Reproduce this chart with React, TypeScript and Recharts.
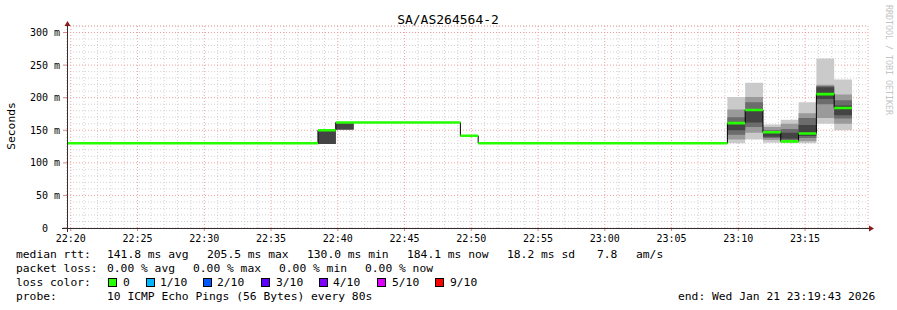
import React from 'react';
import { ComposedChart, Area, Line, XAxis, YAxis, CartesianGrid } from 'recharts';

const chartTitle = 'SA/AS264564-2';

// rrd slots, 80 s each, first one starts 22:18:31
const slotStartSec = 80311;
const slotStepSec = 80;
// visible window 22:19:43 .. 23:19:43
const viewStartSec = 80383;
const viewEndSec = 83983;

// median rtt per slot (ms)
const medianMs = [
  130, 130, 130, 130, 130, 130, 130, 130, 130, 130, 130, 130, 130, 130, 130,
  150, 162,
  162, 162, 162, 162, 162, 162,
  141.5,
  130, 130, 130, 130, 130, 130, 130, 130, 130, 130, 130, 130, 130, 130,
  161, 181, 147, 133, 145, 205.5, 184.1,
];

// slots that show smoke, and the ping spread bands (outer -> core), ms
const smokeSlots = [15, 16, 38, 39, 40, 41, 42, 43, 44];
const smokeBand1 = [[129, 151], [151, 162], [130, 201], [136, 223], [131, 159], [130, 166], [130, 193], [160, 260], [150, 228]];
const smokeBand2 = [[129, 151], [151, 162], [136, 182], [146, 201], [135, 155], [132, 160], [133, 176], [169, 220], [160, 205]];
const smokeBand3 = [[129, 151], [151, 162], [143, 170], [155, 193], [138, 150], [134, 152], [138, 169], [190, 218], [168, 196]];
const smokeBand4 = [[129, 151], [151, 162], [150, 160], [162, 180], [140, 146], [137, 146], [141, 158], [198, 216], [173, 188]];

const xTickLabels = ['22:20', '22:25', '22:30', '22:35', '22:40', '22:45', '22:50', '22:55', '23:00', '23:05', '23:10', '23:15'];
const yTicks = [0, 50, 100, 150, 200, 250, 300];
const yMax = 310;

const statsRtt = ['141.8 ms avg', '205.5 ms max', '130.0 ms min', '184.1 ms now', '18.2 ms sd', '7.8', 'am/s'];
const statsLoss = ['0.00 % avg', '0.00 % max', '0.00 % min', '0.00 % now'];
const lossLabels = ['0', '1/10', '2/10', '3/10', '4/10', '5/10', '9/10'];
const lossColors = ['#26ff00', '#00b8ff', '#0059ff', '#5e00ff', '#7e00ff', '#dd00ff', '#ff0000'];
const probeText = '10 ICMP Echo Pings (56 Bytes) every 80s';
const endText = 'end: Wed Jan 21 23:19:43 2026';

const mono = '"DejaVu Sans Mono", monospace';

const toSec = (hm: string) => {
  const [h, m] = hm.split(':').map(Number);
  return h * 3600 + m * 60;
};
const fmtTime = (s: number) => {
  const h = Math.floor(s / 3600);
  const m = Math.floor((s % 3600) / 60);
  return `${String(h).padStart(2, '0')}:${String(m).padStart(2, '0')}`;
};

const xTicks = xTickLabels.map(toSec);
const xMinorTicks: number[] = [];
for (let s = xTicks[0]; s < viewEndSec; s += 60) if (!xTicks.includes(s)) xMinorTicks.push(s);
const yMinorTicks: number[] = [];
for (let v = 10; v <= yMax; v += 10) if (!yTicks.includes(v)) yMinorTicks.push(v);

type Band = number[] | null;
type Row = { t: number; m: number | null; b1: Band; b2: Band; b3: Band; b4: Band };

const rows: Row[] = [];
medianMs.forEach((m, i) => {
  const t0 = slotStartSec + i * slotStepSec;
  const t1 = t0 + slotStepSec;
  const k = smokeSlots.indexOf(i);
  const bands = k >= 0
    ? { b1: smokeBand1[k], b2: smokeBand2[k], b3: smokeBand3[k], b4: smokeBand4[k] }
    : { b1: null, b2: null, b3: null, b4: null };
  rows.push({ t: t0, m, ...bands });
  rows.push({ t: t1, m, ...bands });
  rows.push({ t: t1, m: null, b1: null, b2: null, b3: null, b4: null });
});

function YTick(props: any) {
  const { x, y, payload } = props;
  const v = payload.value;
  return (
    <text x={v === 0 ? x - 12 : x} y={y} dy={3.5} textAnchor="end" fontSize={10} fontFamily={mono} fill="#000">
      {v === 0 ? '0' : `${v} m`}
    </text>
  );
}

// axis scale in recharts 3 may be a plain function or an object with map()
const useScale = (axis: any, vals: number[]): number[] => {
  const s = axis && axis.scale;
  if (typeof s === 'function') return vals.map((v) => s(v));
  if (s && typeof s.map === 'function') return vals.map((v) => s.map(v));
  return [];
};
const minorX = ({ xAxis }: any) => useScale(xAxis, xMinorTicks).filter((v) => Number.isFinite(v));
const minorY = ({ yAxis }: any) => useScale(yAxis, yMinorTicks).filter((v) => Number.isFinite(v));

const rttX = [107, 207, 307, 407, 507, 597, 636];
const lossX = [107, 193, 279, 365];
const boxX = [108, 146, 203, 261, 319, 377, 435];
const labelX = [123, 160, 217, 276, 333, 392, 450];

export default function App() {
  return (
    <div style={{ position: 'absolute', left: 0, top: 0, width: 897, height: 310, background: '#fff' }}>
      <ComposedChart
        width={897}
        height={310}
        data={rows}
        margin={{ top: 26, right: 29, bottom: 52, left: 0 }}
      >
        <CartesianGrid
          stroke="#d2d2d2"
          strokeDasharray="1 2"
          verticalCoordinatesGenerator={minorX}
          horizontalCoordinatesGenerator={minorY}
        />
        <CartesianGrid stroke="#f2a0a0" strokeDasharray="1 2" />
        <XAxis
          dataKey="t"
          type="number"
          domain={[viewStartSec, viewEndSec]}
          ticks={xTicks}
          tickFormatter={fmtTime}
          allowDataOverflow
          height={30}
          axisLine={false}
          tickSize={3}
          tickMargin={4}
          tickLine={{ stroke: '#e08080' }}
          tick={{ fontSize: 10, fill: '#000', fontFamily: mono }}
        />
        <YAxis
          type="number"
          domain={[0, yMax]}
          ticks={yTicks}
          allowDataOverflow
          width={67}
          axisLine={false}
          tickSize={4}
          tickMargin={3}
          tickLine={{ stroke: '#e08080' }}
          tick={<YTick />}
        />
        <Area dataKey="b1" type="linear" stroke="none" fill="#cacaca" fillOpacity={1} dot={false} activeDot={false} isAnimationActive={false} />
        <Area dataKey="b2" type="linear" stroke="none" fill="#9a9a9a" fillOpacity={1} dot={false} activeDot={false} isAnimationActive={false} />
        <Area dataKey="b3" type="linear" stroke="none" fill="#6c6c6c" fillOpacity={1} dot={false} activeDot={false} isAnimationActive={false} />
        <Area dataKey="b4" type="linear" stroke="none" fill="#444444" fillOpacity={1} dot={false} activeDot={false} isAnimationActive={false} />
        <Line dataKey="m" type="linear" stroke="#000" strokeWidth={1} connectNulls dot={false} activeDot={false} isAnimationActive={false} />
        <Line dataKey="m" type="linear" stroke="#26ff00" strokeWidth={2.6} dot={false} activeDot={false} isAnimationActive={false} />
      </ComposedChart>

      <svg width={897} height={310} style={{ position: 'absolute', left: 0, top: 0, pointerEvents: 'none' }} fontFamily={mono}>
        <text x={448} y={24} textAnchor="middle" fontSize={13} fill="#000">{chartTitle}</text>
        <text x={15} y={126} textAnchor="middle" fontSize={11.3} fill="#000" transform="rotate(-90 15 126)">Seconds</text>
        <text x={886} y={5} fontSize={8.3} fill="#c4c4c4" transform="rotate(90 886 5)">RRDTOOL / TOBI OETIKER</text>

        <line x1={62} y1={228.5} x2={869} y2={228.5} stroke="#303030" strokeWidth={1} />
        <line x1={67.5} y1={232} x2={67.5} y2={25} stroke="#303030" strokeWidth={1} />
        <polygon points="869,225.5 874,228.5 869,231.5" fill="#8b1a1a" />
        <polygon points="64.5,26 67.5,21 70.5,26" fill="#8b1a1a" />

        <g fontSize={11.3} fill="#000">
          <text x={16} y={258}>median rtt:</text>
          {statsRtt.map((s, i) => <text key={s} x={rttX[i]} y={258}>{s}</text>)}
          <text x={16} y={272}>packet loss:</text>
          {statsLoss.map((s, i) => <text key={s} x={lossX[i]} y={272}>{s}</text>)}
          <text x={16} y={286}>loss color:</text>
          {lossLabels.map((s, i) => (
            <g key={s}>
              <rect x={boxX[i] + 0.5} y={278.5} width={8} height={8} fill={lossColors[i]} stroke="#000" strokeWidth={1} />
              <text x={labelX[i]} y={286}>{s}</text>
            </g>
          ))}
          <text x={16} y={300}>probe:</text>
          <text x={107} y={300}>{probeText}</text>
          <text x={678} y={300}>{endText}</text>
        </g>
      </svg>
    </div>
  );
}
